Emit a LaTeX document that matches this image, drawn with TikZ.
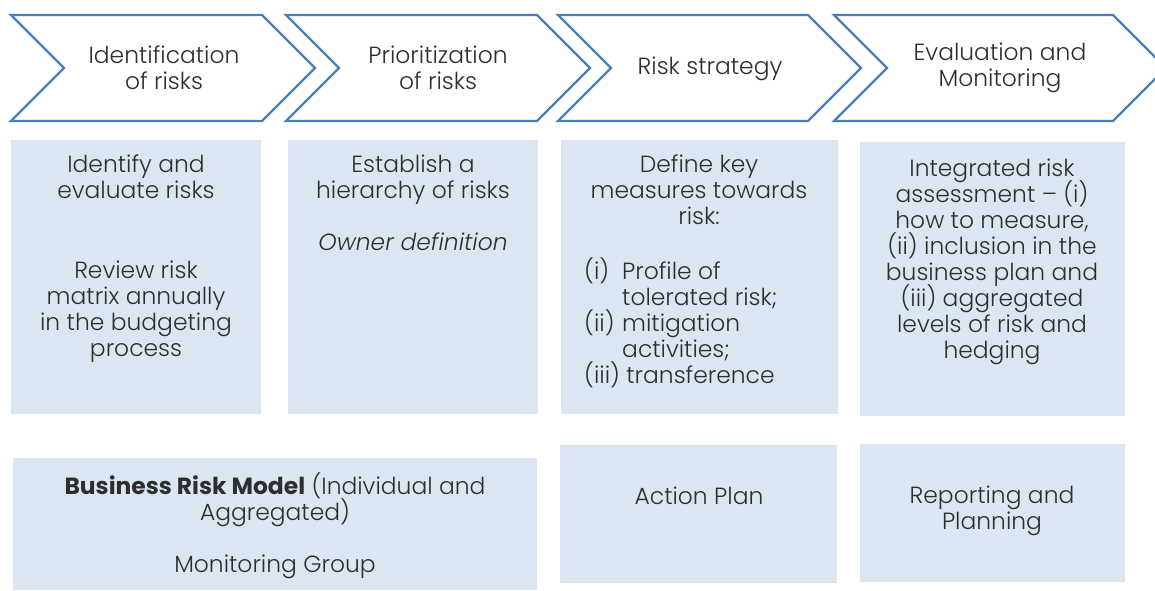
\documentclass[tikz,border=0pt]{standalone}
\usepackage{fontspec}
\setmainfont{Poppins Light}[BoldFont=Poppins SemiBold,ItalicFont=Poppins Light Italic]
\definecolor{chevblue}{HTML}{4A7EBB}
\definecolor{boxfill}{HTML}{DCE6F2}
\definecolor{txt}{HTML}{2E2E2E}
\newcommand\myfont{\fontsize{23.4}{26}\selectfont\lineskiplimit=-30pt\lineskip=0pt\relax}
\begin{document}
\begin{tikzpicture}[x=1pt,y=-1pt,
  chevron/.style={draw=chevblue,line width=2.2pt,fill=white,line join=miter},
  chevtext/.style={text=txt,align=center,inner sep=0pt,font=\myfont},
  panel/.style={fill=boxfill,draw=none,inner sep=0pt},
  paratext/.style={text=txt,align=center,inner sep=0pt,anchor=north,font=\myfont}]
\useasboundingbox (0,0) rectangle (1155,590);
\clip (0,0) rectangle (1155,590);
% chevrons
\foreach \L/\R in {11/262,286/537,558/808,834/1113}{
  \draw[chevron] (\L,15) -- (\R,15) -- (\R+53,68) -- (\R,121) -- (\L,121) -- (\L+53,68) -- cycle;
}
\node[chevtext] (c1) at (164,68) {Identification\\of risks};
\node[chevtext] (c2) at (438,68) {Prioritization\\of risks};
\node[chevtext] (c3) at (710,69) {Risk strategy};
\node[chevtext] (c4) at (1000,68) {Evaluation and\\Monitoring};
% upper panels
\node[panel,minimum width=250,minimum height=274] (b1) at (136,277) {};
\node[panel,minimum width=250,minimum height=274] (b2) at (413,277) {};
\node[panel,minimum width=277,minimum height=274] (b3) at (699.5,277) {};
\node[panel,minimum width=265,minimum height=274] (b4) at (992.5,279) {};
% lower panels
\node[panel,minimum width=524,minimum height=132] (b5) at (275,524) {};
\node[panel,minimum width=277,minimum height=138] (b6) at (698.5,514) {};
\node[panel,minimum width=265,minimum height=138] (b7) at (992.5,513) {};
% texts
\node[paratext] (t1a) at (136,155) {Identify and\\evaluate risks};
\node[paratext] (t1b) at (136,261) {Review risk\\matrix annually\\in the budgeting\\process};
\node[paratext] (t2a) at (413,155) {Establish a\\hierarchy of risks};
\node[paratext] (t2b) at (413,233) {\itshape Owner definition};
\node[paratext] (t3a) at (699,155) {Define key\\measures towards\\risk:};
\node[paratext,align=left,anchor=north west] (t3b) at (584,257)
  {\makebox[38pt][l]{(i)}Profile of\\\hspace*{38pt}tolerated risk;\\\makebox[38pt][l]{(ii)}mitigation\\\hspace*{38pt}activities;\\(iii) transference};
\node[paratext] (t4) at (992,159) {Integrated risk\\assessment – (i)\\how to measure,\\(ii) inclusion in the\\business plan and\\(iii) aggregated\\levels of risk and\\hedging};
\node[paratext] (t5a) at (275,472) {{\fontspec{Poppins Bold}Business Risk Model} (Individual and\\Aggregated)};
\node[paratext] (t5b) at (275,555) {Monitoring Group};
\node[paratext] (t6) at (699,487) {Action Plan};
\node[paratext] (t7) at (992,486) {Reporting and\\Planning};
\end{tikzpicture}
\end{document}
